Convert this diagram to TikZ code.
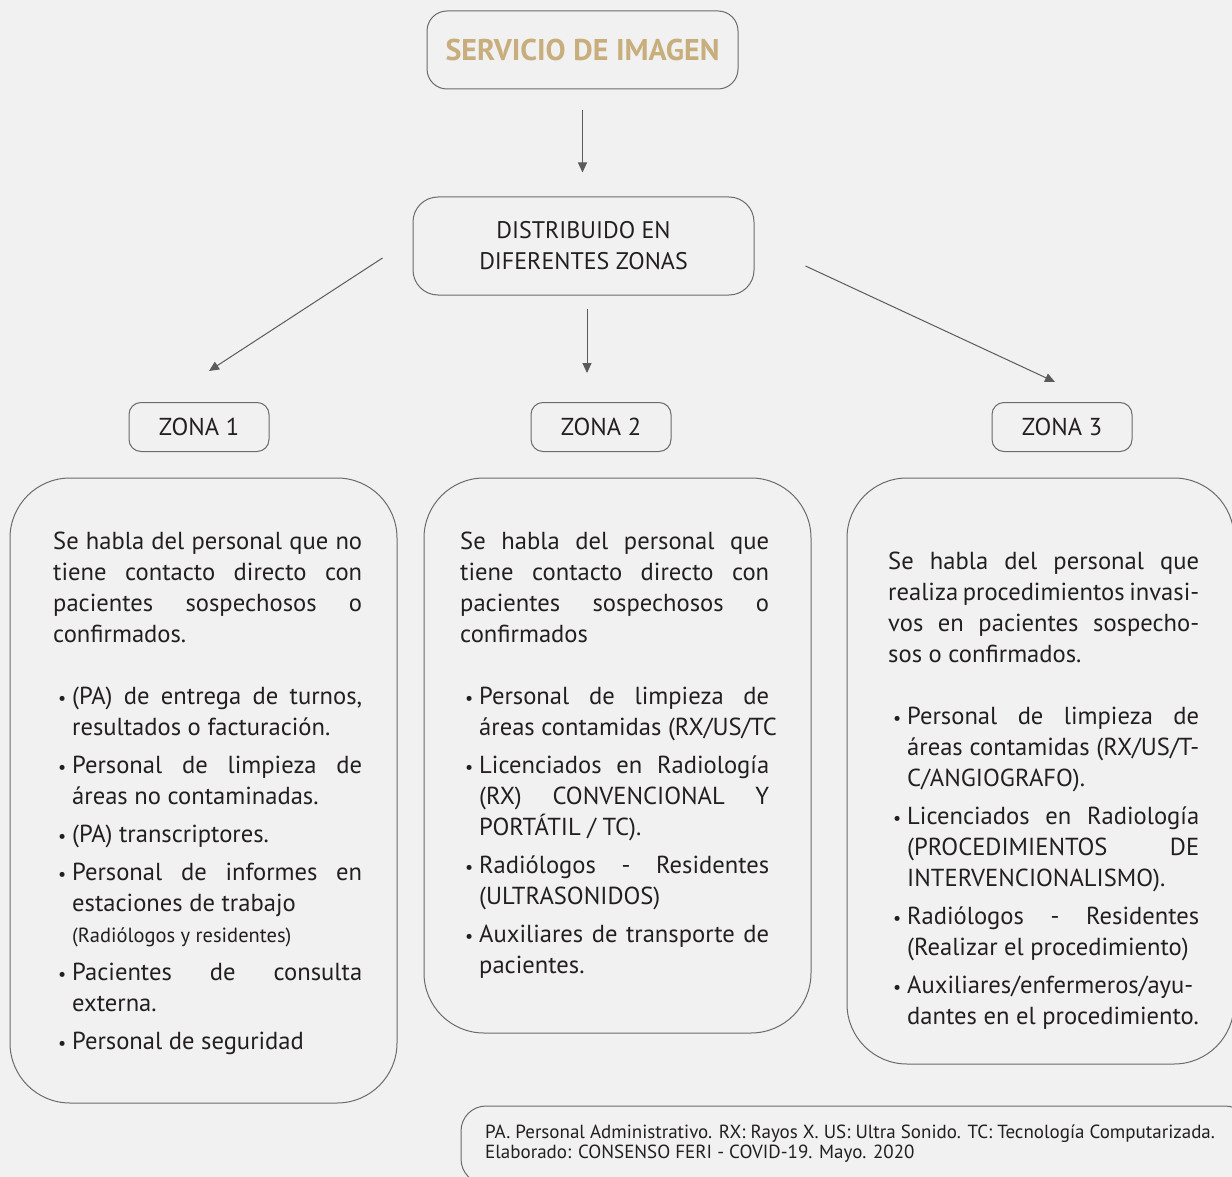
\documentclass[tikz,border=0pt]{standalone}
\usepackage{fontspec}
\setmainfont{PT Sans}
\usepackage{enumitem}
\usetikzlibrary{arrows.meta}

\definecolor{fondo}{HTML}{F1F1F1}
\definecolor{borde}{HTML}{6B6B6B}
\definecolor{oro}{HTML}{C8AE7D}
\definecolor{tinta}{HTML}{231F20}

\setlist[itemize]{leftmargin=19pt,labelsep=6pt,itemsep=7pt,parsep=0pt,
  topsep=31pt,partopsep=0pt,label={\fontsize{18}{18}\selectfont\textbullet}}

\tikzset{
  caja/.style={draw=borde,line width=1pt,rounded corners=#1},
  flecha/.style={draw=borde!85!black,line width=1pt,-{Triangle[length=10pt,width=9pt]}},
  texto/.style={text=tinta,font=\fontsize{24.6}{31}\selectfont,align=justify,
    inner sep=0pt,anchor=north west},
  zona/.style={caja=12pt,minimum width=140pt,minimum height=49pt,text=tinta,
    font=\fontsize{24.5}{24.5}\selectfont}
}

\begin{document}
\begin{tikzpicture}[x=1pt,y=-1pt]
\useasboundingbox (0,0) rectangle (1232,1177);
\fill[fondo] (0,0) rectangle (1232,1177);

% cabecera
\node[caja=20pt,minimum width=311pt,minimum height=78pt,text=oro,
  font=\fontsize{30}{30}\selectfont\bfseries] (servicio) at (582.5,50) {SERVICIO DE IMAGEN};
\node[caja=25pt,minimum width=341pt,minimum height=98pt,text=tinta,align=center,
  font=\fontsize{24}{31}\selectfont] (dist) at (583.5,246) {DISTRIBUIDO EN\\DIFERENTES ZONAS};

\node[zona] (zona1) at (199,427) {ZONA 1};
\node[zona] (zona2) at (601,427) {ZONA 2};
\node[zona] (zona3) at (1062,427) {ZONA 3};

\draw[flecha,shorten <=21pt,shorten >=24pt] (servicio.south) -- (servicio.south |- dist.north);
\draw[flecha,shorten <=13pt,shorten >=29pt] ([xshift=3.5pt]dist.south) -- ([xshift=3.5pt]dist.south |- zona2.north);
\draw[flecha] ([shift={(-30,12)}]dist.west) -- ([shift={(10,-31)}]zona1.north);
\draw[flecha] ([shift={(51,20)}]dist.east) -- ([shift={(-7,-20)}]zona3.north);

% cajas grandes
\draw[caja=60pt] (10,478) rectangle (397,1103);
\draw[caja=60pt] (424,478) rectangle (811,1033);
\draw[caja=60pt] (847,478) rectangle (1234,1064);

\node[texto,text width=309pt] (texto1) at (53,532) {%
Se habla del personal que no\linebreak tiene contacto directo con\linebreak
pacientes sospechosos o\linebreak confirmados.
\begin{itemize}
\item (PA) de entrega de turnos,\linebreak resultados o facturación.
\item Personal de limpieza de\linebreak áreas no contaminadas.
\item (PA) transcriptores.
\item Personal de informes en\linebreak estaciones de trabajo\newline
  {\fontsize{20.5}{31}\selectfont(Radiólogos y residentes)}
\item Pacientes de consulta\linebreak externa.
\item Personal de seguridad
\end{itemize}};

\node[texto,text width=309pt] (texto2) at (460,532) {%
Se habla del personal que\linebreak tiene contacto directo con\linebreak
pacientes sospechosos o\linebreak confirmados
\begin{itemize}
\item Personal de limpieza de\linebreak \mbox{áreas contamidas (RX/US/TC}
\item Licenciados en Radiología\linebreak (RX) CONVENCIONAL Y\linebreak PORTÁTIL / TC).
\item Radiólogos - Residentes\linebreak (ULTRASONIDOS)
\item Auxiliares de transporte de\linebreak pacientes.
\end{itemize}};

\node[texto,text width=311pt] (texto3) at (888,552) {%
Se habla del personal que\linebreak realiza procedimientos invasi-\linebreak
vos en pacientes sospecho-\linebreak sos o confirmados.
\begin{itemize}
\item Personal de limpieza de\linebreak áreas contamidas (RX/US/T-\linebreak C/ANGIOGRAFO).
\item Licenciados en Radiología\linebreak (PROCEDIMIENTOS DE\linebreak INTERVENCIONALISMO).
\item Radiólogos - Residentes\linebreak (Realizar el procedimiento)
\item Auxiliares/enfermeros/ayu-\linebreak dantes en el procedimiento.
\end{itemize}};

% nota
\draw[caja=25pt] (461,1106) rectangle (1250,1184);
\node[text=tinta,font=\fontsize{19}{20}\selectfont,align=left,inner sep=0pt,
  anchor=north west] (nota) at (485,1125) {PA. Personal Administrativo. RX: Rayos X. US: Ultra Sonido. TC: Tecnología Computarizada.\\
Elaborado: CONSENSO FERI - COVID-19. Mayo. 2020};
\end{tikzpicture}
\end{document}
